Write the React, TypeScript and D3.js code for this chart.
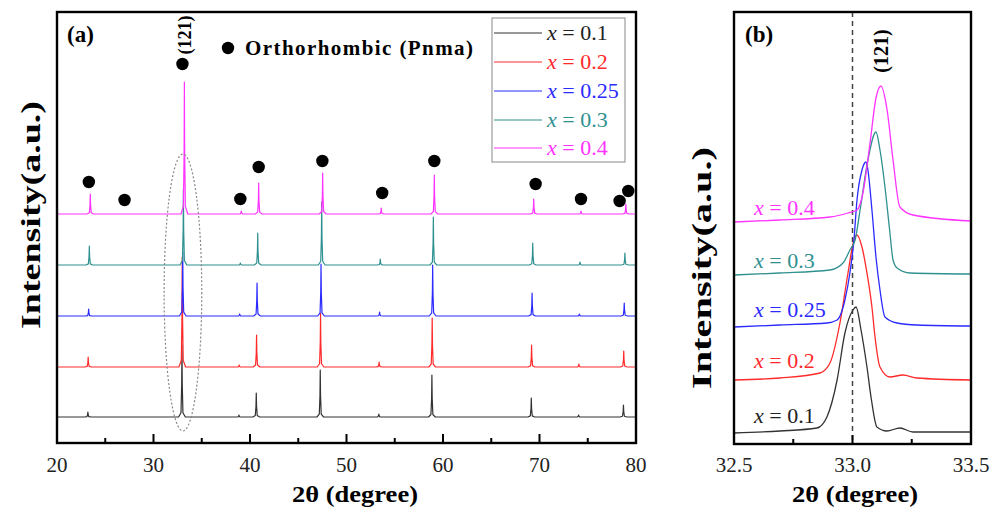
import React from "react";
import * as d3 from "d3";

// ---- shared ----
const compositions = ["0.1", "0.2", "0.25", "0.3", "0.4"];
const colors = ["#333333", "#ff2a2a", "#2b2bff", "#2f9090", "#ff33ff"];
const textColors = ["#222222", "#ff2a2a", "#2b2bff", "#2f9090", "#ff33ff"];

// ---- panel (a): full XRD patterns ----
const peakAngles = [23.2, 32.95, 38.85, 40.65, 47.28, 53.35, 58.85, 69.15, 74.05, 78.7];
const peakShift = [0, 0.03, 0.08, 0.15, 0.25];
const peakHeights = [
  [5, 72, 2, 24, 47, 3, 42, 19, 2, 12],
  [10, 110, 2, 32, 54, 5, 49, 22, 3, 16],
  [7, 64, 2, 33, 52, 4, 51, 23, 2, 13],
  [19, 76, 2, 32, 63, 6, 48, 22, 3, 12],
  [20, 132, 3, 31, 41, 6, 39, 15, 3, 10],
];
const offsetsA = [26, 76, 127, 178, 229];
const xTicksA = [20, 25, 30, 35, 40, 45, 50, 55, 60, 65, 70, 75, 80];
const xLabelsA = [20, 30, 40, 50, 60, 70, 80];

// orthorhombic markers (angle, height above top pattern)
const dotAngles = [23.3, 27.0, 33.0, 39.0, 40.9, 47.5, 53.7, 59.1, 69.6, 74.3, 78.3, 79.2];
const dotHeights = [32, 14, 150, 15, 47, 53, 21, 53, 30, 15, 13, 23];

// ---- panel (b): (121) reflection ----
const bTheta01 = [32.5, 32.694, 32.85, 32.892, 32.935, 32.968, 33.002, 33.015, 33.036, 33.061, 33.08, 33.103, 33.145, 33.2, 33.255, 33.5];
const bInt01 = [11, 13, 16, 27, 64, 111, 134, 137, 114, 77, 44, 17, 13, 16, 12, 12];
const bTheta02 = [32.5, 32.694, 32.863, 32.905, 32.947, 32.981, 33.006, 33.019, 33.04, 33.061, 33.082, 33.095, 33.116, 33.158, 33.213, 33.272, 33.5];
const bInt02 = [12, 14, 19, 29, 69, 119, 152, 157, 145, 119, 85, 55, 25, 15, 17, 14, 12];
const bTheta025 = [32.5, 32.694, 32.892, 32.935, 32.968, 32.989, 33.006, 33.019, 33.04, 33.057, 33.065, 33.082, 33.099, 33.116, 33.137, 33.188, 33.272, 33.5];
const bInt025 = [12, 14, 16, 19, 39, 66, 99, 139, 169, 177, 169, 129, 82, 49, 22, 16, 14, 13];
const bTheta03 = [32.5, 32.694, 32.905, 32.96, 32.989, 33.011, 33.032, 33.065, 33.099, 33.116, 33.137, 33.158, 33.171, 33.188, 33.243, 33.5];
const bInt03 = [12, 14, 17, 24, 37, 47, 77, 127, 155, 137, 100, 54, 27, 19, 14, 13];
const bTheta04 = [32.5, 32.694, 32.905, 32.981, 33.019, 33.044, 33.074, 33.099, 33.12, 33.146, 33.171, 33.2, 33.255, 33.5];
const bInt04 = [11, 13, 16, 20, 23, 40, 90, 135, 147, 123, 73, 26, 18, 12];
const bThetas = [bTheta01, bTheta02, bTheta025, bTheta03, bTheta04];
const bInts = [bInt01, bInt02, bInt025, bInt03, bInt04];
const offsetsB = [0, 52, 105, 157, 211];
const xTicksB = [32.5, 32.75, 33.0, 33.25, 33.5];
const xLabelsB = [32.5, 33.0, 33.5];
const labelYB = [21, 24, 22, 19, 18];

const FONT = '"Liberation Serif", "Times New Roman", Times, serif';

// peak profile: relative positions and fractions of height
const profDx = [-0.35, -0.1, -0.03, 0, 0.03, 0.1, 0.35];
const profFr = [0, 0.06, 0.45, 1, 0.45, 0.06, 0];

export default function App() {
  const W = 990;
  const H = 509;

  // panel (a) geometry
  const a = { left: 57, right: 636, top: 12, bottom: 443 };
  const xA = d3.scaleLinear().domain([20, 80]).range([a.left, a.right]);
  const yA = d3.scaleLinear().domain([0, a.bottom - a.top]).range([a.bottom, a.top]);

  // panel (b) geometry
  const b = { left: 734, right: 971, top: 12, bottom: 444 };
  const xB = d3.scaleLinear().domain([32.5, 33.5]).range([b.left, b.right]);
  const yB = d3.scaleLinear().domain([0, b.bottom - b.top]).range([b.bottom, b.top]);

  const lineA = d3.line<[number, number]>().x((d) => xA(d[0])).y((d) => yA(d[1]));
  const lineB = d3
    .line<[number, number]>()
    .x((d) => xB(d[0]))
    .y((d) => yB(d[1]))
    .curve(d3.curveMonotoneX);

  const patternPath = (si: number) => {
    const pts: [number, number][] = [[20, offsetsA[si]]];
    peakAngles.forEach((p, i) => {
      const c = p + peakShift[si];
      profDx.forEach((dx, k) => {
        pts.push([c + dx, offsetsA[si] + peakHeights[si][i] * profFr[k]]);
      });
    });
    pts.push([80, offsetsA[si]]);
    return lineA(pts) || "";
  };

  const peakPath = (si: number) => {
    const pts: [number, number][] = bThetas[si].map((t, i) => [t, bInts[si][i] + offsetsB[si]]);
    return lineB(pts) || "";
  };

  const legendRows = [33, 62, 91, 120, 148];
  const tf = { fontFamily: FONT };

  return (
    <div style={{ position: "absolute", left: 0, top: 0 }}>
      <svg width={W} height={H} style={{ display: "block", background: "#fff", fontFamily: FONT }}>
        <style>{`text, tspan { font-family: "Liberation Serif", "Times New Roman", Times, serif; }`}</style>
        <rect x={0} y={0} width={W} height={H} fill="#fff" />

        <defs>
          <clipPath id="clipA">
            <rect x={a.left} y={a.top} width={a.right - a.left} height={a.bottom - a.top} />
          </clipPath>
          <clipPath id="clipB">
            <rect x={b.left} y={b.top} width={b.right - b.left} height={b.bottom - b.top} />
          </clipPath>
        </defs>

        {/* ===== panel (a) ===== */}
        <g clipPath="url(#clipA)">
          {compositions.map((c, i) => (
            <path key={c} d={patternPath(i)} fill="none" stroke={colors[i]} strokeWidth={1.2} strokeLinejoin="round" />
          ))}
        </g>

        {/* dotted ellipse around (121) */}
        <ellipse
          cx={xA(33.05)}
          cy={yA((12 + 289) / 2)}
          rx={xA(35.0) - xA(33.05)}
          ry={(yA(12) - yA(289)) / 2}
          fill="none"
          stroke="#888"
          strokeWidth={1.2}
          strokeDasharray="2,2"
        />

        {/* orthorhombic dots */}
        {dotAngles.map((t, i) => (
          <circle key={i} cx={xA(t)} cy={yA(offsetsA[4] + dotHeights[i])} r={6.2} fill="#000" />
        ))}

        {/* frame a */}
        <rect x={a.left} y={a.top} width={a.right - a.left} height={a.bottom - a.top} fill="none" stroke="#000" strokeWidth={2.4} />
        {xTicksA.map((t) => {
          const major = t % 10 === 0;
          return (
            <line key={t} x1={xA(t)} x2={xA(t)} y1={a.bottom} y2={a.bottom - (major ? 9 : 5)} stroke="#000" strokeWidth={2} />
          );
        })}
        {xLabelsA.map((t) => (
          <text key={t} x={xA(t)} y={472} textAnchor="middle" fontSize={21} fill="#222" style={tf}>
            {t}
          </text>
        ))}
        <text x={355} y={502} textAnchor="middle" fontSize={24} fontWeight="bold" textLength={126} lengthAdjust="spacingAndGlyphs" style={tf}>
          2θ (degree)
        </text>
        <text
          transform={`translate(40, 215) rotate(-90)`}
          textAnchor="middle"
          fontSize={28}
          fontWeight="bold"
          textLength={228}
          lengthAdjust="spacingAndGlyphs"
          style={tf}
        >
          Intensity(a.u.)
        </text>

        <text x={67} y={42} fontSize={23} fontWeight="bold" style={tf}>(a)</text>
        <text transform={`translate(191, 35) rotate(-90)`} textAnchor="middle" fontSize={18} fontWeight="bold" style={tf}>
          (121)
        </text>
        <circle cx={228} cy={48} r={6.2} fill="#000" />
        <text x={245} y={55} fontSize={21} fontWeight="bold" textLength={228} lengthAdjust="spacing" style={tf}>
          Orthorhombic (Pnma)
        </text>

        {/* legend */}
        <rect x={492} y={18} width={133} height={144} fill="#fff" stroke="#888" strokeWidth={1} />
        {compositions.map((c, i) => (
          <g key={c}>
            <line x1={494} x2={542} y1={legendRows[i]} y2={legendRows[i]} stroke={colors[i]} strokeWidth={1.2} />
            <text x={547} y={legendRows[i] + 7} fontSize={22} fill={textColors[i]} style={tf}>
              <tspan fontStyle="italic">x</tspan>
              {" = " + c}
            </text>
          </g>
        ))}

        {/* ===== panel (b) ===== */}
        <line x1={xB(33.0)} x2={xB(33.0)} y1={b.top} y2={b.bottom} stroke="#444" strokeWidth={1.5} strokeDasharray="5,4" />
        <g clipPath="url(#clipB)">
          {compositions.map((c, i) => (
            <path key={c} d={peakPath(i)} fill="none" stroke={colors[i]} strokeWidth={1.3} strokeLinejoin="round" />
          ))}
        </g>

        {compositions.map((c, i) => (
          <text key={c} x={754} y={yB(offsetsB[i] + labelYB[i])} fontSize={22} fill={textColors[i]} style={tf}>
            <tspan fontStyle="italic">x</tspan>
            {" = " + c}
          </text>
        ))}

        <rect x={b.left} y={b.top} width={b.right - b.left} height={b.bottom - b.top} fill="none" stroke="#000" strokeWidth={2.4} />
        {xTicksB.map((t) => {
          const major = Math.abs((t * 2) % 1) < 1e-9;
          return (
            <line key={t} x1={xB(t)} x2={xB(t)} y1={b.bottom} y2={b.bottom - (major ? 9 : 5)} stroke="#000" strokeWidth={2} />
          );
        })}
        {xLabelsB.map((t) => (
          <text key={t} x={xB(t)} y={472} textAnchor="middle" fontSize={21} fill="#222" style={tf}>
            {t.toFixed(1)}
          </text>
        ))}
        <text x={855} y={502} textAnchor="middle" fontSize={24} fontWeight="bold" textLength={126} lengthAdjust="spacingAndGlyphs" style={tf}>
          2θ (degree)
        </text>
        <text
          transform={`translate(711, 268) rotate(-90)`}
          textAnchor="middle"
          fontSize={28}
          fontWeight="bold"
          textLength={242}
          lengthAdjust="spacingAndGlyphs"
          style={tf}
        >
          Intensity(a.u.)
        </text>
        <text x={745} y={42} fontSize={23} fontWeight="bold" style={tf}>(b)</text>
        <text transform={`translate(888, 51) rotate(-90)`} textAnchor="middle" fontSize={20} fontWeight="bold" style={tf}>
          (121)
        </text>
      </svg>
    </div>
  );
}
